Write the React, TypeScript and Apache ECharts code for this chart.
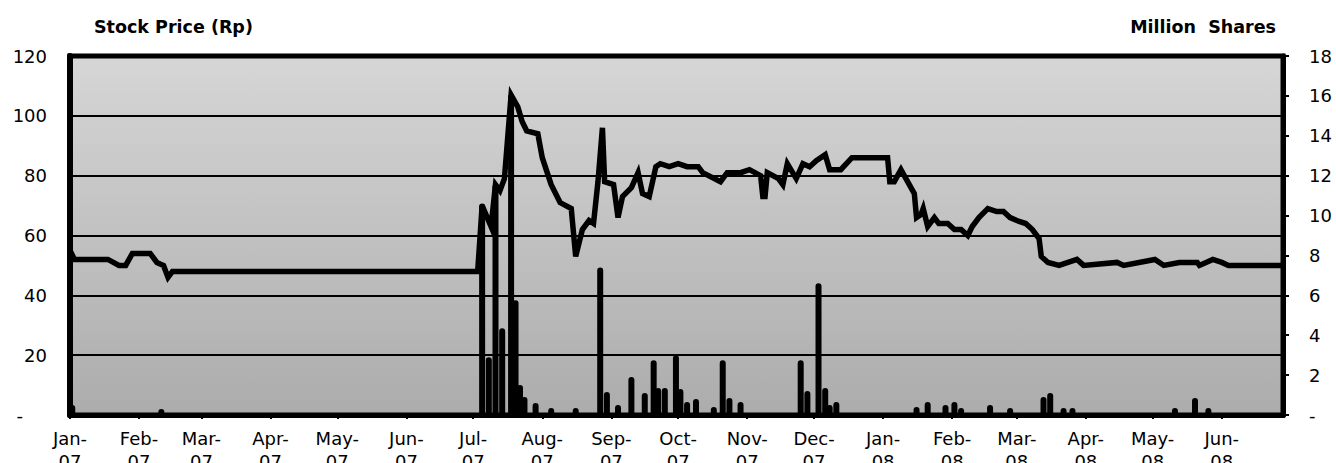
import React, { useEffect, useRef } from "react";
import * as echarts from "echarts";

const monthStarts = [
  "2007-01-01", "2007-02-01", "2007-03-01", "2007-04-01", "2007-05-01", "2007-06-01",
  "2007-07-01", "2007-08-01", "2007-09-01", "2007-10-01", "2007-11-01", "2007-12-01",
  "2008-01-01", "2008-02-01", "2008-03-01", "2008-04-01", "2008-05-01", "2008-06-01",
];
const monthLabels = [
  "Jan-\n07", "Feb-\n07", "Mar-\n07", "Apr-\n07", "May-\n07", "Jun-\n07",
  "Jul-\n07", "Aug-\n07", "Sep-\n07", "Oct-\n07", "Nov-\n07", "Dec-\n07",
  "Jan-\n08", "Feb-\n08", "Mar-\n08", "Apr-\n08", "May-\n08", "Jun-\n08",
];

const priceDates = [
  "2007-01-01", "2007-01-03", "2007-01-18", "2007-01-23", "2007-01-26", "2007-01-29",
  "2007-02-06", "2007-02-09", "2007-02-12", "2007-02-14", "2007-02-16", "2007-07-03",
  "2007-07-05", "2007-07-09", "2007-07-11", "2007-07-13", "2007-07-15", "2007-07-18",
  "2007-07-21", "2007-07-23", "2007-07-25", "2007-07-30", "2007-08-01", "2007-08-05",
  "2007-08-09", "2007-08-14", "2007-08-16", "2007-08-19", "2007-08-22", "2007-08-24",
  "2007-08-26", "2007-08-28", "2007-08-29", "2007-09-02", "2007-09-04", "2007-09-06",
  "2007-09-10", "2007-09-13", "2007-09-15", "2007-09-18", "2007-09-21", "2007-09-23",
  "2007-09-27", "2007-10-01", "2007-10-05", "2007-10-10", "2007-10-12", "2007-10-20",
  "2007-10-23", "2007-10-29", "2007-11-02", "2007-11-07", "2007-11-08", "2007-11-09",
  "2007-11-10", "2007-11-15", "2007-11-17", "2007-11-19", "2007-11-23", "2007-11-26",
  "2007-11-29", "2007-12-02", "2007-12-06", "2007-12-08", "2007-12-13", "2007-12-18",
  "2008-01-03", "2008-01-04", "2008-01-06", "2008-01-09", "2008-01-12", "2008-01-15",
  "2008-01-16", "2008-01-18", "2008-01-19", "2008-01-21", "2008-01-24", "2008-01-26",
  "2008-01-30", "2008-02-02", "2008-02-05", "2008-02-08", "2008-02-10", "2008-02-13",
  "2008-02-17", "2008-02-21", "2008-02-24", "2008-02-27", "2008-03-01", "2008-03-05",
  "2008-03-08", "2008-03-11", "2008-03-12", "2008-03-15", "2008-03-20", "2008-03-28",
  "2008-03-31", "2008-04-15", "2008-04-18", "2008-05-02", "2008-05-06", "2008-05-13",
  "2008-05-21", "2008-05-22", "2008-05-28", "2008-06-01", "2008-06-04", "2008-06-28",
];
const priceValues = [
  55, 52, 52, 50, 50, 54,
  54, 51, 50, 46, 48, 48,
  70, 63, 77, 75, 79, 107,
  103, 98, 95, 94, 86, 77,
  71, 69, 53, 62, 65, 64,
  78, 96, 78, 77, 66, 73,
  76, 81, 74, 73, 83, 84,
  83, 84, 83, 83, 81, 78,
  81, 81, 82, 80, 73, 73,
  81, 79, 77, 84, 79, 84,
  83, 85, 87, 82, 82, 86,
  86, 78, 78, 82, 78, 74,
  66, 67, 69, 63, 66, 64,
  64, 62, 62, 60, 63, 66,
  69, 68, 68, 66, 65, 64,
  62, 59, 53, 51, 50, 52,
  50, 51, 50, 52, 50, 51,
  51, 50, 52, 51, 50, 50,
];

const volumeDates = [
  "2007-01-02", "2007-02-11", "2007-07-05", "2007-07-08", "2007-07-11", "2007-07-14",
  "2007-07-18", "2007-07-20", "2007-07-22", "2007-07-24", "2007-07-29", "2007-08-05",
  "2007-08-16", "2007-08-27", "2007-08-30", "2007-09-04", "2007-09-10", "2007-09-16",
  "2007-09-20", "2007-09-22", "2007-09-25", "2007-09-30", "2007-10-02", "2007-10-05",
  "2007-10-09", "2007-10-17", "2007-10-21", "2007-10-24", "2007-10-29", "2007-11-25",
  "2007-11-28", "2007-12-03", "2007-12-06", "2007-12-08", "2007-12-11", "2008-01-16",
  "2008-01-21", "2008-01-29", "2008-02-02", "2008-02-05", "2008-02-18", "2008-02-27",
  "2008-03-13", "2008-03-16", "2008-03-22", "2008-03-26", "2008-05-11", "2008-05-20",
  "2008-05-26",
];
const volumeValues = [
  0.5, 0.3, 10.6, 2.9, 11.6, 4.35,
  16.1, 5.75, 1.5, 0.9, 0.6, 0.35,
  0.35, 7.4, 1.15, 0.5, 1.9, 1.1,
  2.75, 1.35, 1.35, 3.0, 1.3, 0.65,
  0.8, 0.4, 2.75, 0.85, 0.65, 2.75,
  1.2, 6.6, 1.35, 0.5, 0.65, 0.4,
  0.65, 0.5, 0.65, 0.35, 0.5, 0.35,
  0.9, 1.1, 0.35, 0.35, 0.35, 0.85,
  0.35,
];

const priceTicks = { min: 0, max: 120, interval: 20 };
const volumeTicks = { min: 0, max: 18, interval: 2 };
const axisStart = "2007-01-01";
const axisEnd = "2008-06-28";

const ts = (d: string) => {
  const [y, m, dd] = d.split("-").map(Number);
  return Date.UTC(y, m - 1, dd);
};

const FONT = "DejaVu Sans";

export default function App() {
  const ref = useRef<HTMLDivElement>(null);
  useEffect(() => {
    if (!ref.current) return;
    const chart = echarts.init(ref.current, null, { renderer: "svg" });
    const monthTs = monthStarts.map(ts);
    chart.setOption({
      animation: false,
      backgroundColor: "#ffffff",
      title: [
        {
          text: "Stock Price (Rp)",
          left: 89,
          top: 13,
          textStyle: { fontFamily: FONT, fontWeight: "bold", fontSize: 17.5, color: "#000" },
        },
        {
          text: "Million  Shares",
          right: 55,
          top: 13,
          textStyle: { fontFamily: FONT, fontWeight: "bold", fontSize: 17.5, color: "#000" },
        },
      ],
      grid: {
        left: 70,
        right: 53,
        top: 56,
        bottom: 48,
        containLabel: false,
        outerBoundsMode: "none",
        show: true,
        borderColor: "#000",
        borderWidth: 5,
        backgroundColor: new echarts.graphic.LinearGradient(0, 0, 0, 1, [
          { offset: 0, color: "#d6d6d6" },
          { offset: 1, color: "#acacac" },
        ]),
      },
      xAxis: {
        type: "value",
        min: ts(axisStart),
        max: ts(axisEnd) + 12 * 3600 * 1000,
        splitLine: { show: false },
        axisLine: { show: true, lineStyle: { color: "#000", width: 5 } },
        axisTick: {
          show: true,
          customValues: monthTs,
          length: 4,
          lineStyle: { color: "#000", width: 2 },
        },
        axisLabel: {
          customValues: monthTs,
          formatter: (v: number) => {
            const i = monthTs.indexOf(v);
            return i >= 0 ? monthLabels[i] : "";
          },
          fontFamily: FONT,
          fontSize: 18,
          lineHeight: 23,
          color: "#000",
          margin: 12,
        },
      },
      yAxis: [
        {
          type: "value",
          position: "left",
          min: priceTicks.min,
          max: priceTicks.max,
          interval: priceTicks.interval,
          axisLine: { show: true, lineStyle: { color: "#000", width: 6 } },
          axisTick: { show: false },
          splitLine: { show: true, lineStyle: { color: "#000", width: 2 } },
          axisLabel: {
            margin: 23,
            fontFamily: FONT,
            fontSize: 18,
            color: "#000",
            formatter: (v: number) => (v === 0 ? "{z|-}" : String(v)),
            rich: {
              z: { fontFamily: FONT, fontSize: 18, color: "#000", padding: [0, 24, 0, 0] },
            },
          },
        },
        {
          type: "value",
          position: "right",
          min: volumeTicks.min,
          max: volumeTicks.max,
          interval: volumeTicks.interval,
          axisLine: { show: true, lineStyle: { color: "#000", width: 5 } },
          axisTick: { show: true, length: 6, lineStyle: { color: "#000", width: 2 } },
          splitLine: { show: false },
          axisLabel: {
            margin: 26,
            fontFamily: FONT,
            fontSize: 18,
            color: "#000",
            formatter: (v: number) => (v === 0 ? "-" : String(v)),
          },
        },
      ],
      series: [
        {
          type: "bar",
          yAxisIndex: 1,
          barWidth: 6,
          itemStyle: { color: "#000", borderRadius: [3, 3, 0, 0] },
          data: volumeDates.map((d, i) => [ts(d), volumeValues[i]]),
          z: 2,
        },
        {
          type: "line",
          yAxisIndex: 0,
          symbol: "none",
          lineStyle: { color: "#000", width: 5.5, join: "miter" },
          data: priceDates.map((d, i) => [ts(d), priceValues[i]]),
          z: 3,
        },
      ],
    });
    return () => chart.dispose();
  }, []);
  return (
    <div
      ref={ref}
      style={{ position: "fixed", left: 0, top: 0, width: 1336, height: 463 }}
    />
  );
}
